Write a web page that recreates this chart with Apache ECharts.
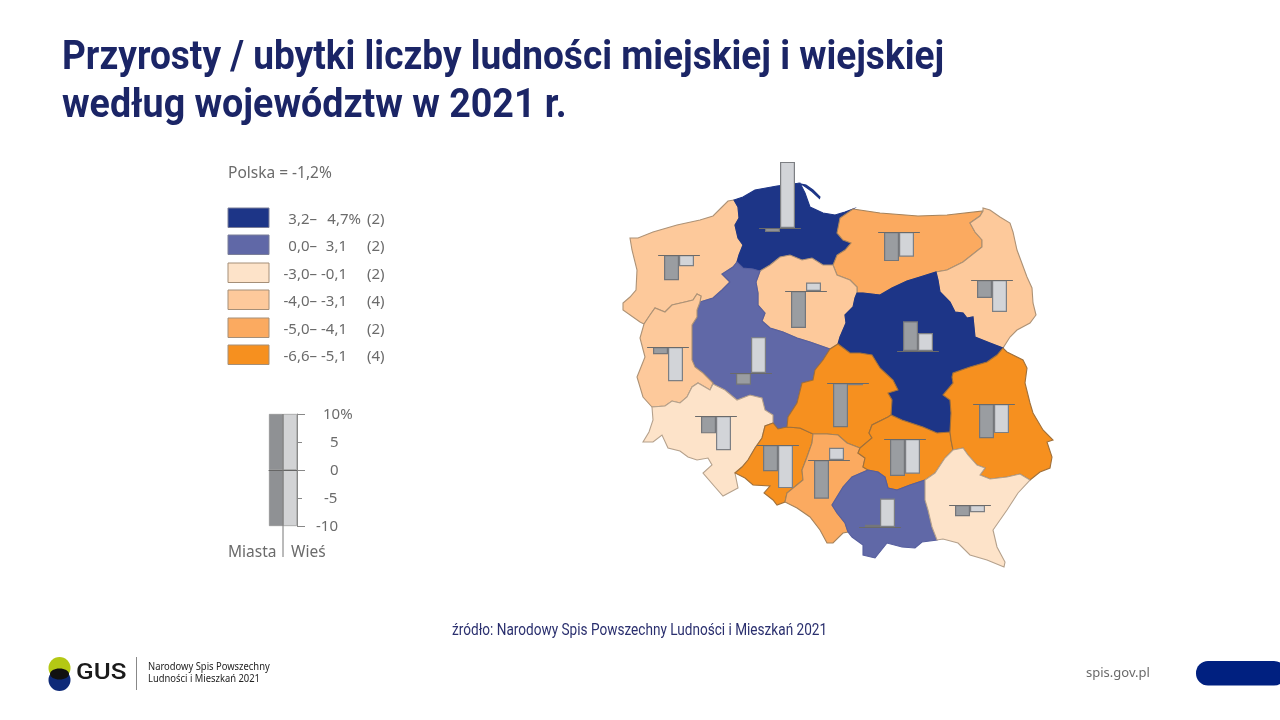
<!DOCTYPE html>
<html lang="pl">
<head>
<meta charset="utf-8">
<style>html,body{margin:0;padding:0;background:#fff}#c{width:1280px;height:720px}</style>
<script src="https://cdn.jsdelivr.net/npm/echarts@6/dist/echarts.min.js"></script>
</head>
<body>
<div id="c"></div>
<script>
// ---------- data ----------
const regions = ['Zachodniopomorskie','Pomorskie','Warmińsko-mazurskie','Podlaskie','Kujawsko-pomorskie','Mazowieckie','Wielkopolskie','Lubuskie','Dolnośląskie','Opolskie','Łódzkie','Śląskie','Świętokrzyskie','Małopolskie','Lubelskie','Podkarpackie'];
const miasta = [-4.5,-0.7,-5.2,-3.2,-6.6,5.3,-2.1,-1.3,-3.1,-4.7,-7.9,-6.9,-6.6,0.4,-6.1,-2.0];
const wies   = [-2.0,11.8,-4.4,-5.7,1.5,3.2,6.4,-6.1,-6.1,-7.7,-0.4,2.2,-6.2,5.1,-5.2,-1.3];
const total  = [-3.6,4.7,-4.8,-3.9,-3.5,3.9,1.6,-3.2,-2.9,-5.6,-5.5,-4.5,-6.5,2.8,-5.6,-1.5];
const legendLow   = ['3,2–','0,0–','-3,0–','-4,0–','-5,0–','-6,6–'];
const legendHigh  = ['4,7%','3,1','-0,1','-3,1','-4,1','-5,1'];
const legendCount = ['(2)','(2)','(2)','(4)','(2)','(4)'];
const classMin = [3.2,0,-3,-4,-5,-6.6];
const classMax = [4.7,3.1,-0.1,-3.1,-4.1,-5.1];
const scaleTicks = [10,5,0,-5,-10];
const scaleLabels = ['10%','5','0','-5','-10'];
const scaleCats = ['Miasta','Wieś'];
const scaleUp = [10,10];
const scaleDown = [-10,-10];

// ---------- layout ----------
const barCentre = [679,780,899,992,806,918,751,668,716,778,848,829,905,880,994,970];
const barBase   = [255,228,232,280,291,351,373,347,416,445,383,460,439,527,404,505];
const pxPerPct = 5.6;
const classColors = ['#1d3587','#6068a7','#fde3c9','#fdc99b','#fbaa60','#f6901f'];
const classEdges  = ['#1d3587','#565e9e','#b5a18c','#ad9276','#a5835c','#a0703a'];
const swatchY = [208,235,263,290,318,345];
const grey = '#6b6b6b', navy = '#1b2566';
const font = '"Noto Sans"';

// ---------- outline of the country, shared borders ----------
const B = {
coastZP:[[734,200],[728,201],[722,207],[713,216],[700,220],[677,225],[653,232],[638,238],[630,238],[632,250],[637,270],[636,290],[630,297],[623,303],[623,310],[640,322],[644,324]],
lubW:[[644,324],[640,338],[645,357],[643,362],[637,377],[643,397],[652,407]],
dolS:[[652,407],[653,420],[649,432],[643,442],[653,442],[662,435],[668,448],[680,451],[688,457],[697,460],[708,458],[712,465],[703,473],[715,487],[723,496],[738,488],[735,473]],
opS:[[735,473],[745,478],[753,485],[770,486],[764,493],[773,500],[777,505],[785,502]],
slS:[[785,502],[797,508],[810,517],[820,530],[827,543],[833,543],[843,533],[848,532]],
malS:[[848,532],[852,537],[863,545],[863,555],[875,558],[887,543],[902,547],[915,548],[922,542],[937,540]],
podkS:[[937,540],[943,539],[958,543],[970,555],[987,560],[1004,567],[1005,562],[997,547],[993,530],[1007,510],[1018,493],[1030,480]],
lubeE:[[1030,480],[1040,472],[1050,468],[1052,457],[1047,442],[1053,440],[1043,430],[1033,413],[1030,403],[1025,383],[1027,368],[1023,360],[1007,352],[1003,348]],
podE:[[1003,348],[1010,337],[1017,330],[1030,323],[1036,315],[1033,303],[1032,288],[1027,277],[1017,250],[1013,232],[1010,223],[1000,217],[990,210],[983,208],[983,211]],
wmN:[[983,211],[947,215],[918,216],[880,213],[853,209]],
pomN:[[853,209],[845,212],[835,215],[823,213],[810,207],[805,193],[800,183],[777,186],[755,190],[743,197],[734,200]],
zl:[[644,324],[650,315],[655,308],[665,312],[672,305],[685,302],[693,300],[697,294],[701,296],[700,302]],
zw:[[700,302],[713,298],[722,290],[730,282],[722,274],[733,267],[737,262]],
zp:[[737,262],[739,255],[743,245],[738,238],[735,225],[739,218],[738,207],[734,200]],
pw:[[737,262],[743,268],[753,269],[760,271]],
pk:[[760,271],[770,265],[780,257],[790,255],[802,260],[812,258],[823,265],[833,265]],
pm:[[833,265],[837,255],[845,250],[851,243],[843,240],[837,233],[840,218],[853,209]],
wk:[[760,271],[756,282],[758,293],[758,305],[765,313],[762,321],[770,328],[783,332],[797,338],[810,342],[830,349]],
kl:[[830,349],[838,344]],
km:[[838,344],[840,337],[846,323],[845,315],[853,307],[855,298],[857,293]],
mk:[[833,265],[837,275],[850,280],[857,287],[857,293]],
wmm:[[857,293],[863,293],[880,295],[892,288],[907,281],[920,277],[936,272]],
wmpod:[[936,272],[947,270],[963,262],[982,247],[982,240],[975,232],[970,223],[980,216],[983,211]],
podm:[[936,272],[938,280],[940,292],[950,302],[955,312],[963,313],[967,318],[973,317],[975,337],[990,343],[1003,348]],
mlu:[[1003,348],[997,355],[987,362],[970,367],[953,373],[952,377],[953,383],[943,395],[950,400],[951,413],[950,432]],
ms:[[950,432],[937,433],[923,427],[902,420],[891,415]],
ml:[[891,415],[892,400],[888,393],[898,390],[893,380],[880,368],[872,355],[860,353],[850,353],[838,344]],
wl:[[830,349],[823,360],[815,370],[813,380],[802,383],[797,403],[788,417],[787,427]],
wop:[[787,427],[778,429],[773,423]],
wd:[[773,423],[773,415],[765,410],[762,398],[750,395],[737,400],[725,390],[713,384],[710,390]],
wlub:[[700,302],[697,310],[697,317],[692,325],[692,340],[692,360],[695,367],[703,373],[713,383],[710,390]],
ld:[[710,390],[698,383],[692,387],[687,397],[680,403],[672,401],[665,406],[652,407]],
dop:[[773,423],[765,426],[762,438],[755,448],[748,460],[742,467],[735,473]],
opl:[[787,427],[800,428],[813,434]],
ops:[[813,434],[812,443],[807,457],[802,470],[803,480],[787,493],[785,502]],
ls:[[813,434],[827,434],[838,435],[847,443],[860,448]],
lsw:[[891,415],[888,417],[872,425],[869,433],[872,438],[860,448]],
ssw:[[860,448],[858,453],[865,458],[863,467],[868,470]],
sm:[[868,470],[852,477],[843,487],[832,505],[837,513],[845,523],[848,532]],
swm:[[868,470],[878,472],[885,477],[888,488],[897,490],[910,485],[925,480]],
swpk:[[925,480],[935,473],[945,458],[953,450]],
swlu:[[950,432],[951,440],[953,450]],
lupk:[[953,450],[963,448],[968,455],[977,465],[985,468],[980,475],[990,479],[1007,477],[1020,474],[1030,480]],
mpk:[[925,480],[925,500],[928,510],[932,527],[937,540]]
};
const rings = {
'Zachodniopomorskie':['coastZP','zl','zw','zp'],
'Pomorskie':['-zp','pw','pk','pm','pomN'],
'Warmińsko-mazurskie':['-wmN','-wmpod','-wmm','-mk','pm'],
'Podlaskie':['wmpod','-podE','-podm'],
'Kujawsko-pomorskie':['pk','mk','-km','-kl','-wk'],
'Mazowieckie':['wmm','podm','mlu','ms','ml','km'],
'Wielkopolskie':['zw','pw','wk','wl','wop','wd','-wlub'],
'Lubuskie':['-zl','lubW','-ld','-wlub'],
'Dolnośląskie':['dolS','-dop','wd','ld'],
'Opolskie':['dop','opS','-ops','-opl','wop'],
'Łódzkie':['kl','-ml','lsw','-ls','-opl','-wl'],
'Śląskie':['ops','slS','-sm','-ssw','-ls'],
'Świętokrzyskie':['lsw','ssw','swm','swpk','-swlu','ms'],
'Małopolskie':['sm','malS','-mpk','-swm'],
'Lubelskie':['mlu','swlu','lupk','lubeE'],
'Podkarpackie':['mpk','podkS','-lupk','-swpk']
};
const helPeninsula = [[801,184],[806,185],[813,190],[820,197],[819.5,198.5],[812,191.5],[805,186.5],[801,184]];
const toGeo = p => [p[0], -p[1]];
function ringOf(keys){
  let out = [];
  keys.forEach(k => {
    const rev = k[0] === '-';
    const seg = B[rev ? k.slice(1) : k].slice();
    if (rev) seg.reverse();
    out = out.concat(out.length ? seg.slice(1) : seg);
  });
  return out.map(toGeo);
}
const geo = {type:'FeatureCollection',features:regions.map(name=>{
  const polys = [[ringOf(rings[name])]];
  if(name==='Pomorskie') polys.push([helPeninsula.map(toGeo)]);
  return {type:'Feature',properties:{name},geometry:{type:'MultiPolygon',coordinates:polys}};
})};
echarts.registerMap('pl', geo);
const allPts = Object.values(B).flat();
const xs = allPts.map(p=>p[0]), ys = allPts.map(p=>p[1]);
const minX=Math.min(...xs),maxX=Math.max(...xs),minY=Math.min(...ys),maxY=Math.max(...ys);
const classOf = v => classMin.findIndex((m,i)=>v>=m && v<=classMax[i]);

// ---------- series ----------
const series = [{
  type:'map', map:'pl', left:minX, top:minY, width:maxX-minX, height:maxY-minY,
  aspectScale:1, roam:false, silent:true, selectedMode:false, z:1,
  label:{show:false}, emphasis:{disabled:true},
  itemStyle:{borderColor:'#94877a',borderWidth:1},
  data:regions.map((name,i)=>({name,value:total[i],itemStyle:{borderColor:classEdges[classOf(total[i])],borderWidth:1.1}}))
}];
const grids=[], xAxes=[], yAxes=[];
const cityBar={color:'#9a9da1',borderColor:'#74767a',borderWidth:1.2};
const ruralBar={color:'#d2d4d8',borderColor:'#7d7f83',borderWidth:1.2};
regions.forEach((name,i)=>{
  grids.push({left:barCentre[i]-20.5,width:41,top:barBase[i]-14*pxPerPct,height:28*pxPerPct,show:false});
  xAxes.push({gridIndex:i,type:'category',z:5,data:[name],axisTick:{show:false},axisLabel:{show:false},
    axisLine:{show:true,onZero:true,lineStyle:{color:'#6a6a6a',width:1}},splitLine:{show:false}});
  yAxes.push({gridIndex:i,type:'value',min:-14,max:14,show:false,splitLine:{show:false}});
  series.push({type:'bar',name:'Miasta',xAxisIndex:i,yAxisIndex:i,data:[miasta[i]],barWidth:15,barGap:0,itemStyle:cityBar,silent:true,z:3});
  series.push({type:'bar',name:'Wieś',xAxisIndex:i,yAxisIndex:i,data:[wies[i]],barWidth:15,barGap:0,itemStyle:ruralBar,silent:true,z:3});
});
// key for the bar scale
const k = regions.length;
const padLeft = [7,14,14,8,0];
const richLabels = {};
scaleLabels.forEach((_,i)=>{richLabels['t'+i]={padding:[2,0,0,padLeft[i]],fontFamily:font,fontSize:15,color:grey};});
grids.push({left:269,width:28,top:414,height:112,show:false});
xAxes.push({gridIndex:k,type:'category',z:5,data:scaleCats,axisTick:{show:false},axisLabel:{show:false},
  axisLine:{show:true,onZero:true,lineStyle:{color:'#666',width:1}}});
yAxes.push({gridIndex:k,type:'value',min:-10,max:10,interval:10,position:'right',z:5,splitLine:{show:false},
  axisLine:{show:true,lineStyle:{color:'#888',width:1}},
  axisTick:{show:true,length:8,lineStyle:{color:'#888'}},
  minorTick:{show:true,splitNumber:2,length:5,lineStyle:{color:'#888'}},
  axisLabel:{show:true,align:'left',margin:19,fontFamily:font,fontSize:15,color:grey,rich:richLabels,customValues:scaleTicks,
    formatter:v=>{const i=scaleTicks.indexOf(v);return '{t'+i+'|'+scaleLabels[i]+'}';}}});
const keyColor = (p)=>p.dataIndex===0?'#8f9194':'#d2d3d5';
[scaleUp,scaleDown].forEach(d=>series.push({type:'bar',xAxisIndex:k,yAxisIndex:k,data:d,stack:'key',barWidth:14,barCategoryGap:0,silent:true,z:3,
  itemStyle:{color:keyColor,borderColor:'#888',borderWidth:0.6}}));

// ---------- page furniture ----------
const text=(x,y,t,o={})=>({type:'text',x,y:y+1.5,scaleX:o.scaleX||1,z:20,silent:true,style:{text:t,fill:o.fill||grey,
  font:(o.weight||'400')+' '+(o.size||15)+'px '+(o.family||font),textAlign:o.align||'left',textVerticalAlign:'middle'}});
const g=[];
g.push(text(62,57.5,'Przyrosty / ubytki liczby ludności miejskiej i wiejskiej',{size:40,weight:'700',family:'Roboto',fill:navy,scaleX:0.926}));
g.push(text(62,105.5,'według województw w 2021 r.',{size:40,weight:'700',family:'Roboto',fill:navy,scaleX:0.94}));
g.push(text(228,172,'Polska = -1,2%',{size:15.5}));
swatchY.forEach((y,i)=>{
  g.push({type:'rect',z:20,silent:true,shape:{x:228,y,width:41,height:19.5},style:{fill:classColors[i],stroke:i<2?'#7b7f99':'#a58f78',lineWidth:1}});
  const cy=y+10;
  g.push(text(317,cy,legendLow[i],{align:'right'}));
  g.push(text(legendHigh[i].endsWith('%')?361:347,cy,legendHigh[i],{align:'right'}));
  g.push(text(367,cy,legendCount[i]));
});
g.push({type:'line',z:21,silent:true,shape:{x1:283,y1:414,x2:283,y2:557},style:{stroke:'#777',lineWidth:1}});
g.push(text(228,551,scaleCats[0],{size:15.5}));
g.push(text(291,551,scaleCats[1],{size:15.5}));
g.push(text(452,629,'źródło: Narodowy Spis Powszechny Ludności i Mieszkań 2021',{size:16,family:'Roboto',fill:'#2a2f6e',scaleX:0.85}));
// logo
g.push({type:'circle',z:20,silent:true,shape:{cx:59.5,cy:668,r:11},style:{fill:'#b4c814'}});
g.push({type:'circle',z:20,silent:true,shape:{cx:59.5,cy:680,r:11},style:{fill:'#0e2a78'}});
g.push({type:'ellipse',z:21,silent:true,shape:{cx:59.5,cy:674,rx:9.5,ry:5.5},style:{fill:'#111'}});
g.push(text(76,672,'GUS',{size:22,family:'Roboto',weight:'500',fill:'#1a1a1a',scaleX:1.18}));
g.push({type:'line',z:20,silent:true,shape:{x1:136.5,y1:657,x2:136.5,y2:690},style:{stroke:'#888',lineWidth:1}});
g.push(text(148,666,'Narodowy Spis Powszechny',{size:10,fill:'#222',scaleX:0.94}));
g.push(text(148,678,'Ludności i Mieszkań 2021',{size:10,fill:'#222',scaleX:0.94}));
g.push(text(1086,672,'spis.gov.pl',{size:13,fill:'#6a6a6a'}));
g.push({type:'rect',z:20,silent:true,shape:{x:1196,y:661,width:90,height:24.5,r:12},style:{fill:'#002080'}});

const chart = echarts.init(document.getElementById('c'),null,{renderer:'canvas'});
chart.setOption({
  animation:false, backgroundColor:'#fff', tooltip:{show:false},
  visualMap:{show:false,seriesIndex:0,type:'piecewise',
    pieces:classMin.map((m,i)=>({min:m,max:classMax[i],color:classColors[i]}))},
  grid:grids, xAxis:xAxes, yAxis:yAxes, series, graphic:g
});
</script>
</body>
</html>
